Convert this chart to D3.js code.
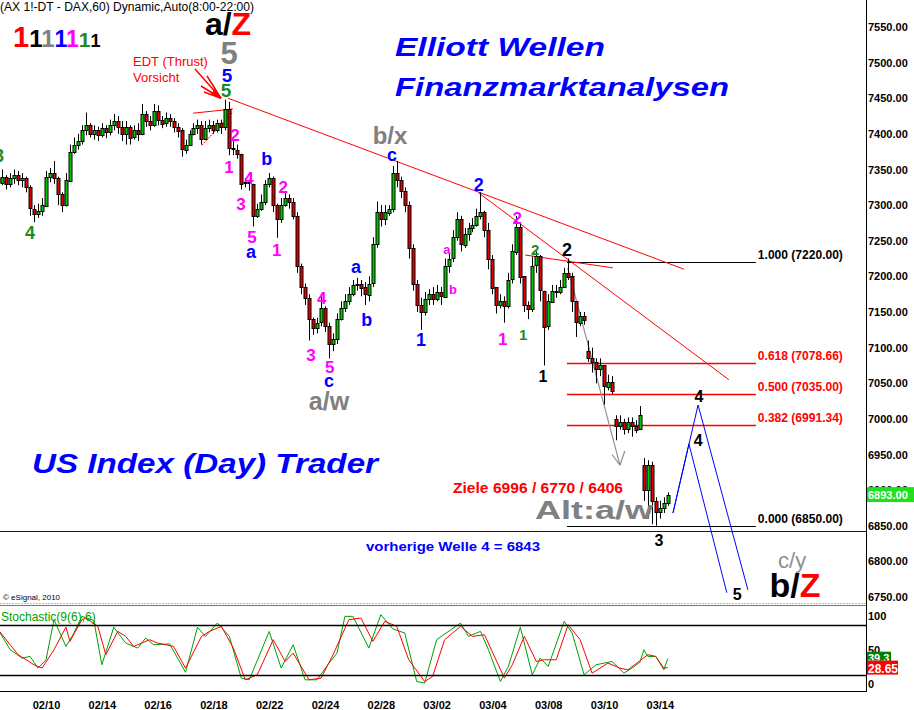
<!DOCTYPE html>
<html><head><meta charset="utf-8">
<script src="https://cdn.jsdelivr.net/npm/d3@7"></script>
<style>body{margin:0;background:#fff;} svg{display:block;font-family:"Liberation Sans",Arial,sans-serif;}</style>
</head><body><svg id="c" width="914" height="710"></svg>
<script>
// ---- price data (2-hour bars) ----
const opens = [7335,7338,7332,7340,7330,7338,7342,7335,7338,7325,
 7295,7288,7292,7300,7340,7345,7338,7315,7300,7335,
 7375,7385,7390,7405,7412,7400,7405,7398,7408,7402,
 7412,7418,7410,7400,7410,7395,7405,7400,7428,7418,
 7412,7432,7420,7415,7422,7418,7410,7405,7378,7385,
 7400,7408,7412,7392,7408,7412,7405,7415,7410,7435,
 7380,7378,7372,7330,7332,7330,7285,7295,7305,7330,
 7338,7300,7280,7300,7310,7305,7285,7215,7185,7170,
 7140,7128,7135,7155,7130,7105,7112,7140,7155,7165,
 7175,7188,7190,7185,7175,7190,7245,7290,7280,7290,
 7295,7345,7335,7320,7300,7240,7190,7160,7150,7168,
 7175,7168,7178,7172,7215,7225,7255,7280,7245,7260,
 7268,7272,7285,7290,7265,7225,7185,7160,7165,7158,
 7195,7235,7270,7200,7160,7155,7215,7228,7180,7130,
 7165,7180,7178,7185,7205,7200,7165,7135,7145,7095,
 7085,7080,7070,7075,7045,7052,7000,6990,6995,6985,
 6995,6990,6985,6935,6900,6935,6885,6870,6875,6882];
const highs = [7345,7345,7350,7342,7345,7350,7348,7345,7340,7328,
 7300,7302,7310,7348,7352,7362,7340,7318,7345,7385,
 7395,7400,7412,7430,7415,7412,7410,7415,7412,7420,
 7428,7425,7418,7418,7412,7412,7415,7442,7432,7425,
 7442,7440,7425,7430,7428,7422,7415,7408,7392,7405,
 7415,7420,7418,7418,7420,7418,7420,7420,7448,7445,
 7390,7385,7372,7338,7336,7330,7302,7315,7335,7345,
 7340,7302,7310,7318,7315,7310,7290,7218,7190,7175,
 7142,7142,7172,7158,7135,7120,7148,7165,7175,7185,
 7195,7198,7195,7192,7200,7255,7305,7300,7300,7300,
 7355,7362,7340,7325,7305,7245,7195,7170,7178,7182,
 7185,7188,7185,7225,7232,7265,7290,7285,7268,7275,
 7282,7295,7318,7292,7275,7230,7185,7175,7172,7205,
 7245,7285,7275,7200,7165,7228,7235,7230,7180,7175,
 7188,7188,7195,7212,7225,7205,7165,7150,7150,7110,
 7100,7085,7085,7075,7062,7060,7005,7005,7000,7002,
 7002,6998,7018,6945,6942,6940,6890,6885,6890,6897];
const lows = [7330,7325,7328,7322,7325,7330,7328,7325,7318,7285,
 7276,7282,7285,7298,7332,7330,7300,7290,7298,7335,
 7372,7378,7385,7398,7395,7392,7390,7395,7394,7398,
 7405,7400,7390,7385,7385,7392,7390,7398,7410,7405,
 7410,7412,7408,7410,7410,7402,7395,7368,7372,7385,
 7398,7400,7385,7392,7402,7400,7402,7400,7405,7370,
 7370,7365,7322,7325,7320,7270,7282,7292,7300,7325,
 7290,7254,7275,7298,7295,7280,7205,7175,7160,7110,
 7118,7120,7130,7122,7085,7095,7105,7138,7150,7160,
 7172,7180,7172,7160,7165,7185,7240,7270,7272,7285,
 7290,7325,7310,7290,7225,7180,7150,7125,7145,7160,
 7160,7165,7160,7170,7205,7220,7250,7235,7240,7250,
 7262,7270,7280,7255,7210,7175,7148,7155,7135,7155,
 7190,7230,7190,7150,7140,7150,7205,7165,7075,7125,
 7165,7170,7175,7185,7195,7150,7115,7130,7132,7080,
 7065,7050,7060,7020,7040,7035,6970,6985,6978,6980,
 6975,6980,6985,6885,6860,6852,6850,6860,6868,6878];
const closes = [7338,7332,7340,7330,7338,7342,7335,7338,7325,7295,
 7288,7292,7300,7340,7345,7338,7315,7300,7335,7375,
 7385,7390,7405,7412,7400,7405,7398,7408,7402,7412,
 7418,7410,7400,7410,7395,7405,7400,7428,7418,7412,
 7432,7420,7415,7422,7418,7410,7405,7378,7385,7400,
 7408,7412,7392,7408,7412,7405,7415,7410,7435,7380,
 7378,7372,7330,7332,7330,7285,7295,7305,7330,7338,
 7300,7280,7300,7310,7305,7285,7215,7185,7170,7140,
 7128,7135,7155,7130,7105,7112,7140,7155,7165,7175,
 7188,7190,7185,7175,7190,7245,7290,7280,7290,7295,
 7345,7335,7320,7300,7240,7190,7160,7150,7168,7175,
 7168,7178,7172,7215,7225,7255,7280,7245,7260,7268,
 7272,7285,7290,7265,7225,7185,7160,7165,7158,7195,
 7235,7270,7200,7160,7155,7215,7228,7180,7130,7165,
 7180,7178,7185,7205,7200,7165,7135,7145,7140,7085,
 7080,7070,7075,7045,7052,7040,6990,6995,6985,6995,
 6990,6985,7005,6900,6935,6885,6870,6875,6882,6893];
const lastPrice = 6893;

// ---- time axis ----
const dayLabels = ["02/10","02/14","02/16","02/18","02/22","02/24","02/28","03/02","03/04","03/08","03/10","03/14"];
const dayNumbers = [2,4,6,8,10,12,14,16,18,20,22,24];
const barsPerDay = 7;
const priceTicks = [6750,6800,6850,6900,6950,7000,7050,7100,7150,7200,7250,7300,7350,7400,7450,7500,7550];

// ---- stochastic (9(6),6) ----
const stochKBar = [1,4,7,9,11,13,15,18,20,22,25,27,30,33,36,38,40,44,48,51,53,56,59,62,64,69,72,75,78,81,84,86,88,90,94,97,100,103,106,108,111,117,119,122,124,127,129,132,135,137,139,143,145,148,151,155,158,160,162,163,164,166,168,169];
const stochK = [74,50,40,42,28,38,86,54,70,90,85,32,77,58,52,64,56,57,23,77,66,82,66,16,14,72,28,56,14,14,34,46,90,90,52,92,75,70,12,10,62,82,66,72,50,12,30,77,20,40,30,84,70,20,32,36,22,28,35,50,42,42,26,39.3];
const stochDBar = [1,6,10,12,15,18,19,22,23,26,28,31,33,35,39,41,45,48,52,54,57,60,63,66,70,73,75,79,82,85,89,92,95,98,101,104,108,110,113,117,120,123,128,130,133,136,138,141,144,147,150,154,157,159,164,166,168,169];
const stochD = [74,44,32,28,50,77,60,86,88,78,44,72,66,54,62,58,54,28,66,72,78,52,14,20,62,36,46,14,16,44,86,88,60,84,78,38,12,18,62,78,66,68,16,32,66,36,38,38,80,62,22,34,28,26,44,42,28,28.65];
const stochLevels = [80,20];
const stochTicks = [100,50,0];

// ---- Fibonacci retracement ----
const fibRatios = ["1.000","0.618","0.500","0.382","0.000"];
const fibPrices = [7220,7078.66,7035,6991.34,6850];
const prevWave4 = 6843;

// ---- drawing ----
const svg = d3.select("#c");
const AX = 866;
const x = d3.scaleLinear().domain([0,169]).range([-5.8,667.8]);
const y = d3.scaleLinear().domain([6750,7550]).range([597,27]);
const ys = d3.scaleLinear().domain([0,100]).range([691.5,608]);
const px = i => Math.round(x(i));

const defs = svg.append("defs");
defs.append("clipPath").attr("id","pc").append("rect").attr("x",0).attr("y",0).attr("width",AX).attr("height",602);
defs.append("clipPath").attr("id","sc").append("rect").attr("x",0).attr("y",606).attr("width",AX).attr("height",86);

const main = svg.append("g").attr("clip-path","url(#pc)");

// previous wave 4 line
main.append("line").attr("x1",0).attr("x2",AX).attr("y1",Math.round(y(prevWave4))+0.5).attr("y2",Math.round(y(prevWave4))+0.5)
  .attr("stroke","#0000ff").attr("stroke-width",1);

// fib lines
const fibStart = 143.7, fibEnd = 191.1;
fibPrices.forEach((p,k)=>{
  const red = k>0 && k<4;
  main.append("line").attr("x1",x(fibStart)).attr("x2",x(fibEnd))
    .attr("y1",Math.round(y(p))+0.5).attr("y2",Math.round(y(p))+0.5)
    .attr("stroke",red?"#ff0000":"#000").attr("stroke-width",red?1.5:1.2);
  main.append("text").attr("x",x(fibEnd)+2).attr("y",Math.round(y(p))-3)
    .attr("font-size",12).attr("font-weight","bold").attr("fill",red?"#ff0000":"#000")
    .attr("textLength",85).attr("lengthAdjust","spacingAndGlyphs")
    .text(`${fibRatios[k]} (${p.toFixed(2)})`);
});

// red trend lines
const trendLines = [
  [[58.7,7450],[173.1,7210]],
  [[121.6,7317],[184.3,7055]],
  [[133.2,7230],[155.2,7212]],
  [[49.9,7429],[59.9,7435]]
];
trendLines.forEach(s=>{
  main.append("line").attr("x1",x(s[0][0])).attr("y1",y(s[0][1])).attr("x2",x(s[1][0])).attr("y2",y(s[1][1]))
    .attr("stroke","#ff0000").attr("stroke-width",1);
});
// EDT lower (dotted) line
main.append("line").attr("x1",x(52.1)).attr("y1",y(7384)).attr("x2",x(59.9)).attr("y2",y(7431))
  .attr("stroke","#ff0000").attr("stroke-width",1).attr("stroke-dasharray","2,1");

// gray arrow
const ga = [[143.9,7212],[157,6935]];
main.append("line").attr("x1",x(ga[0][0])).attr("y1",y(ga[0][1])).attr("x2",x(ga[1][0])).attr("y2",y(ga[1][1]))
  .attr("stroke","#909090").attr("stroke-width",1.2);
[[155,6950],[158.2,6955]].forEach(p=>{
  main.append("line").attr("x1",x(p[0])).attr("y1",y(p[1])).attr("x2",x(ga[1][0])).attr("y2",y(ga[1][1]))
    .attr("stroke","#909090").attr("stroke-width",1.2);
});

// blue projections
const projA = [[170.3,6868],[176.6,7019.5],[189.1,6760]];
const projB = [[170.3,6868],[174.3,6965],[183.8,6756]];
const pl = d3.line().x(d=>x(d[0])).y(d=>y(d[1]));
[projA,projB].forEach(p=>main.append("path").attr("d",pl(p)).attr("fill","none").attr("stroke","#0000ff").attr("stroke-width",1));

// candles
const bars = d3.range(closes.length);
main.selectAll(".wick").data(bars).join("line").attr("class","wick")
  .attr("x1",i=>px(i)+0.5).attr("x2",i=>px(i)+0.5)
  .attr("y1",i=>y(highs[i])).attr("y2",i=>y(lows[i]))
  .attr("stroke","#000").attr("stroke-width",1);
main.selectAll(".body").data(bars).join("rect").attr("class","body")
  .attr("x",i=>px(i)-1).attr("width",3)
  .attr("y",i=>Math.round(y(Math.max(opens[i],closes[i])))+0.5)
  .attr("height",i=>Math.max(1,Math.round(Math.abs(y(opens[i])-y(closes[i])))))
  .attr("fill",i=>closes[i]>=opens[i]?"#00c800":"#e00000")
  .attr("stroke","#000").attr("stroke-width",1);

// wave labels [text, bar, price, color, size]
const M="#ff00ff", B="#0000ff", K="#000", G="#808080", GR="#1e8c1e";
const waveLabels = [
 ["3",1.2,7370,GR,18],["4",9.0,7262,GR,18],
 ["1",58.9,7353,M,17],["2",60.4,7398,M,17],["3",61.9,7302,M,17],["4",63.9,7338,M,17],["5",64.7,7255,M,17],
 ["a",64.4,7234,B,18],["b",68.4,7365,B,18],
 ["1",70.9,7237,M,17],["2",72.5,7325,M,17],["3",79.5,7090,M,17],["4",82.2,7170,M,17],["5",84.2,7073,M,17],
 ["c",84.0,7053,B,18],["a/w",84.0,7025,G,25],
 ["a",90.8,7213,B,18],["b",93.5,7139,B,18],
 ["b/x",99.3,7397,G,24],["c",99.8,7371,B,18],
 ["1",107.1,7111,B,18],["a",113.6,7238,M,13],["b",115.1,7182,M,13],
 ["2",121.6,7328,B,18],["1",127.6,7112,M,17],["2",131.2,7282,M,17],
 ["1",132.7,7118,GR,15],["2",135.7,7238,GR,15],
 ["1",137.7,7059,K,16],["2",143.7,7237,K,18],["3",166.8,6830,K,16],
 ["4",176.8,7032,K,16],["4",176.6,6970,K,16],["5",186.4,6754,K,16],
 ["c/y",200.2,6802,"#909090",22]
];
const lab = svg.append("g");
waveLabels.forEach(d=>{
  lab.append("text").attr("x",x(d[1])).attr("y",y(d[2])).attr("dy","0.35em")
    .attr("text-anchor","middle").attr("font-size",d[4])
    .attr("font-weight", d[0]==="c/y"?"normal":"bold").attr("fill",d[3]).text(d[0]);
});
// b/Z
const bz = lab.append("text").attr("x",x(200.9)).attr("y",y(6767)).attr("dy","0.35em").attr("text-anchor","middle")
  .attr("font-size",34).attr("font-weight","bold");
bz.append("tspan").attr("fill","#000").text("b/");
bz.append("tspan").attr("fill","#ff0000").text("Z");

// a/Z and 5s at top
const az = lab.append("text").attr("x",228).attr("y",35).attr("text-anchor","middle").attr("font-size",32).attr("font-weight","bold");
az.append("tspan").attr("fill","#000").text("a/");
az.append("tspan").attr("fill","#ff0000").text("Z");
lab.append("text").attr("x",229).attr("y",64).attr("text-anchor","middle").attr("font-size",31).attr("font-weight","bold").attr("fill",G).text("5");
lab.append("text").attr("x",227).attr("y",82).attr("text-anchor","middle").attr("font-size",19).attr("font-weight","bold").attr("fill",B).text("5");
lab.append("text").attr("x",226).attr("y",97).attr("text-anchor","middle").attr("font-size",19).attr("font-weight","bold").attr("fill",GR).text("5");

// EDT text + arrows
lab.append("text").attr("x",133).attr("y",66).attr("font-size",13).attr("fill","#ff0000").text("EDT (Thrust)");
lab.append("text").attr("x",133).attr("y",82).attr("font-size",13).attr("fill","#ff0000").text("Vorsicht");
const tip = [x(56.9), y(7450)];
[[195,69],[201,86],[207,76],[204,92]].forEach(p=>{
  lab.append("line").attr("x1",p[0]).attr("y1",p[1]).attr("x2",tip[0]).attr("y2",tip[1]).attr("stroke","#ff0000").attr("stroke-width",1.5);
});
lab.append("path").attr("d",`M${tip[0]},${tip[1]} l-10,-4 l4,-6 z`).attr("fill","#ff0000");

// 1111111
const ones = lab.append("text").attr("x",13).attr("y",47).attr("font-weight","bold");
[["#ff0000",29],["#000",24],["#808080",24],["#0000ff",23],["#ff00ff",23],["#1e8c1e",21],["#000",18]].forEach(c=>{
  ones.append("tspan").attr("fill",c[0]).attr("font-size",c[1]).text("1");
});

// Header / titles
svg.append("text").attr("x",0).attr("y",11).attr("font-size",12).attr("fill","#000")
  .attr("textLength",254).attr("lengthAdjust","spacingAndGlyphs").text("(AX 1!-DT - DAX,60) Dynamic,Auto(8:00-22:00)");
svg.append("text").attr("x",395).attr("y",56).attr("font-size",26).attr("font-weight","bold").attr("font-style","italic")
  .attr("fill","#0000ff").attr("textLength",210).attr("lengthAdjust","spacingAndGlyphs").text("Elliott Wellen");
svg.append("text").attr("x",395).attr("y",96).attr("font-size",26).attr("font-weight","bold").attr("font-style","italic")
  .attr("fill","#0000ff").attr("textLength",334).attr("lengthAdjust","spacingAndGlyphs").text("Finanzmarktanalysen");
svg.append("text").attr("x",32).attr("y",473).attr("font-size",27).attr("font-weight","bold").attr("font-style","italic")
  .attr("fill","#0000ff").attr("textLength",346).attr("lengthAdjust","spacingAndGlyphs").text("US Index (Day) Trader");
svg.append("text").attr("x",453).attr("y",493).attr("font-size",14).attr("font-weight","bold")
  .attr("fill","#ff0000").attr("textLength",170).attr("lengthAdjust","spacingAndGlyphs").text("Ziele 6996 / 6770 / 6406");
svg.append("text").attr("x",535).attr("y",519).attr("font-size",26).attr("font-weight","bold")
  .attr("fill","#808080").attr("textLength",118).attr("lengthAdjust","spacingAndGlyphs").text("Alt:a/w");
svg.append("text").attr("x",366).attr("y",551).attr("font-size",13).attr("font-weight","bold")
  .attr("fill","#0000ff").attr("textLength",174).attr("lengthAdjust","spacingAndGlyphs").text("vorherige Welle 4 = 6843");
svg.append("text").attr("x",3).attr("y",600).attr("font-size",8).attr("fill","#000").text("© eSignal, 2010");

// panel separator
svg.append("line").attr("x1",0).attr("x2",AX).attr("y1",603.5).attr("y2",603.5).attr("stroke","#bbb").attr("stroke-dasharray","2,1");
svg.append("line").attr("x1",0).attr("x2",AX).attr("y1",605.5).attr("y2",605.5).attr("stroke","#777");

// right price axis
const yAxis = d3.axisRight(y).tickValues(priceTicks).tickFormat(d3.format(".2f")).tickSize(0).tickPadding(2);
const ya = svg.append("g").attr("transform",`translate(${AX},0)`).call(yAxis);
ya.select(".domain").remove();
ya.selectAll("text").attr("font-size",11).attr("font-weight","bold").attr("font-family","Liberation Sans, Arial").attr("fill","#000");
svg.append("line").attr("x1",AX+0.5).attr("x2",AX+0.5).attr("y1",0).attr("y2",692).attr("stroke","#000");

// last price box
svg.append("rect").attr("x",AX+1).attr("y",y(lastPrice)-8).attr("width",48).attr("height",15).attr("fill","#1ee01e");
svg.append("text").attr("x",AX+2).attr("y",y(lastPrice)+4).attr("font-size",11).attr("font-weight","bold").attr("fill","#fff").text(lastPrice.toFixed(2));

// stochastic panel
const sp = svg.append("g").attr("clip-path","url(#sc)");
stochLevels.forEach(v=>{
  svg.append("line").attr("x1",0).attr("x2",AX).attr("y1",Math.round(ys(v))+0.5).attr("y2",Math.round(ys(v))+0.5).attr("stroke","#000").attr("stroke-width",1.5);
});
svg.append("line").attr("x1",0).attr("x2",AX).attr("y1",691.5).attr("y2",691.5).attr("stroke","#000");
const sl = d3.line().x(d=>x(d[0])).y(d=>ys(d[1]));
sp.append("path").attr("d",sl(stochKBar.map((b,k)=>[b,stochK[k]]))).attr("fill","none").attr("stroke","#00a000").attr("stroke-width",1);
sp.append("path").attr("d",sl(stochDBar.map((b,k)=>[b,stochD[k]]))).attr("fill","none").attr("stroke","#ff0000").attr("stroke-width",1);
svg.append("text").attr("x",1).attr("y",621).attr("font-size",12).attr("fill","#00a000").text("Stochastic(9(6),6)");
stochTicks.forEach(v=>{
  const yy = Math.min(Math.max(ys(v), 616), 684);
  svg.append("text").attr("x",AX+2).attr("y",yy).attr("dy","0.35em").attr("font-size",11).attr("font-weight","bold").text(v);
});
const kLast = stochK[stochK.length-1], dLast = stochD[stochD.length-1];
svg.append("rect").attr("x",AX+1).attr("y",ys(kLast)-7).attr("width",24).attr("height",12).attr("fill","#008000");
svg.append("text").attr("x",AX+2).attr("y",ys(kLast)+3).attr("font-size",11).attr("font-weight","bold").attr("fill","#fff").text(kLast);
svg.append("rect").attr("x",AX+1).attr("y",ys(dLast)-7).attr("width",31).attr("height",14).attr("fill","#ff0000");
svg.append("text").attr("x",AX+2).attr("y",ys(dLast)+5).attr("font-size",12).attr("font-weight","bold").attr("fill","#fff").text(dLast);

// date axis
const xAxis = d3.axisBottom(x).tickValues(dayNumbers.map(d=>d*barsPerDay-1)).tickFormat((d,k)=>dayLabels[k]).tickSize(0).tickPadding(9);
const xa = svg.append("g").attr("transform","translate(0,692)").call(xAxis);
xa.select(".domain").remove();
xa.selectAll("text").attr("font-size",11).attr("font-weight","bold").attr("font-family","Liberation Sans, Arial").attr("fill","#000");
</script></body></html>
